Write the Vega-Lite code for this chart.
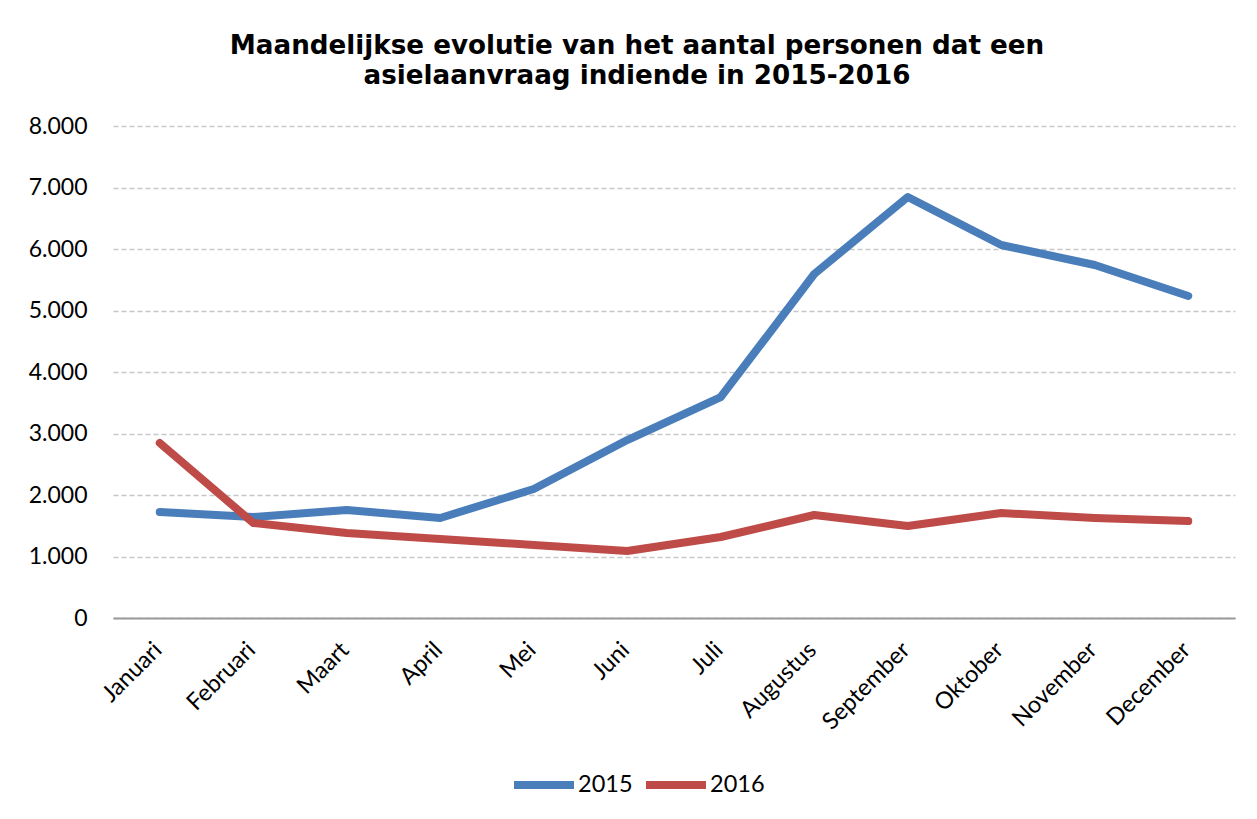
{
  "$schema": "https://vega.github.io/schema/vega-lite/v6.json",
  "autosize": "none",
  "width": 1122,
  "height": 492,
  "padding": {"left": 113, "top": 126, "right": 22, "bottom": 201},
  "background": "white",
  "config": {
    "locale": {"number": {"decimal": ",", "thousands": ".", "grouping": [3], "currency": ["€", ""]}},
    "view": {"stroke": null},
    "font": "Lato"
  },
  "title": {
    "text": ["Maandelijkse evolutie van het aantal personen dat een", "asielaanvraag indiende in 2015-2016"],
    "font": "DejaVu Sans",
    "fontSize": 26.2,
    "fontWeight": "bold",
    "color": "black",
    "anchor": "middle",
    "dx": -37,
    "offset": 26,
    "lineHeight": 30
  },
  "data": {
    "values": [
      {"maand": "Januari", "jaar": "2015", "aantal": 1724},
      {"maand": "Februari", "jaar": "2015", "aantal": 1642},
      {"maand": "Maart", "jaar": "2015", "aantal": 1756},
      {"maand": "April", "jaar": "2015", "aantal": 1626},
      {"maand": "Mei", "jaar": "2015", "aantal": 2098},
      {"maand": "Juni", "jaar": "2015", "aantal": 2894},
      {"maand": "Juli", "jaar": "2015", "aantal": 3593},
      {"maand": "Augustus", "jaar": "2015", "aantal": 5593},
      {"maand": "September", "jaar": "2015", "aantal": 6846},
      {"maand": "Oktober", "jaar": "2015", "aantal": 6065},
      {"maand": "November", "jaar": "2015", "aantal": 5740},
      {"maand": "December", "jaar": "2015", "aantal": 5236},
      {"maand": "Januari", "jaar": "2016", "aantal": 2846},
      {"maand": "Februari", "jaar": "2016", "aantal": 1545},
      {"maand": "Maart", "jaar": "2016", "aantal": 1382},
      {"maand": "April", "jaar": "2016", "aantal": 1285},
      {"maand": "Mei", "jaar": "2016", "aantal": 1187},
      {"maand": "Juni", "jaar": "2016", "aantal": 1089},
      {"maand": "Juli", "jaar": "2016", "aantal": 1317},
      {"maand": "Augustus", "jaar": "2016", "aantal": 1675},
      {"maand": "September", "jaar": "2016", "aantal": 1496},
      {"maand": "Oktober", "jaar": "2016", "aantal": 1707},
      {"maand": "November", "jaar": "2016", "aantal": 1626},
      {"maand": "December", "jaar": "2016", "aantal": 1577}
    ]
  },
  "mark": {"type": "line", "strokeWidth": 8, "strokeCap": "round", "strokeJoin": "round"},
  "encoding": {
    "x": {
      "field": "maand",
      "type": "ordinal",
      "sort": null,
      "scale": {"type": "point", "padding": 0.5},
      "axis": {
        "title": null,
        "labelAngle": -45,
        "labelAlign": "right",
        "labelBaseline": "middle",
        "labelFontSize": 23.5,
        "labelColor": "black",
        "labelPadding": 28,
        "labelOffset": -2,
        "ticks": false,
        "grid": false,
        "domainColor": "#9a9a9a",
        "domainWidth": 2
      }
    },
    "y": {
      "field": "aantal",
      "type": "quantitative",
      "scale": {"domain": [0, 8000], "nice": false},
      "axis": {
        "title": null,
        "values": [0, 1000, 2000, 3000, 4000, 5000, 6000, 7000, 8000],
        "format": ",d",
        "labelFontSize": 23,
        "labelColor": "black",
        "labelPadding": 26,
        "ticks": false,
        "domain": false,
        "gridColor": "#c6c6c6",
        "gridDash": [5, 3],
        "gridWidth": 1.5
      }
    },
    "color": {
      "field": "jaar",
      "type": "nominal",
      "scale": {"domain": ["2015", "2016"], "range": ["#4a7ebb", "#be4b48"]},
      "legend": {
        "title": null,
        "orient": "none",
        "direction": "horizontal",
        "legendX": 397,
        "legendY": 625,
        "symbolType": "stroke",
        "symbolSize": 3600,
        "symbolStrokeWidth": 8,
        "labelFontSize": 23.5,
        "labelColor": "black",
        "labelOffset": 0,
        "columnPadding": -3
      }
    }
  }
}
